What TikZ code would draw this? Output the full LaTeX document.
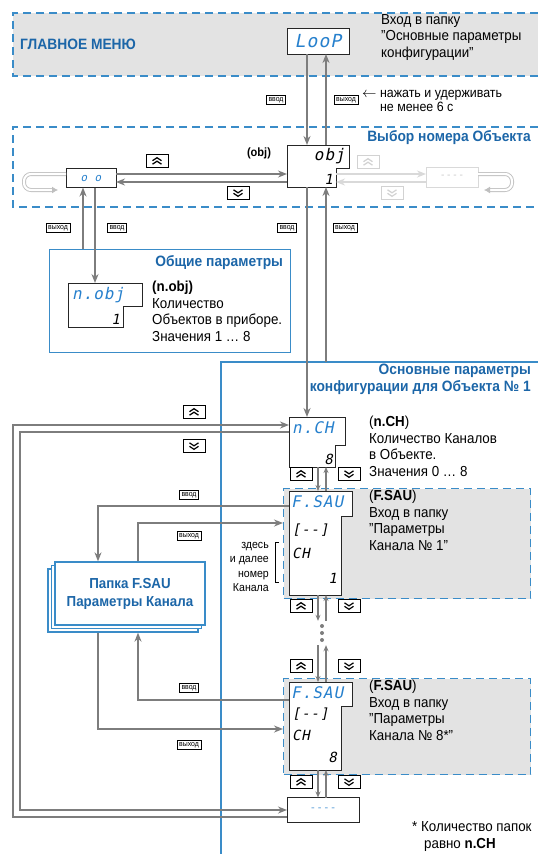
\documentclass[tikz,border=0pt]{standalone}
\usepackage{fontspec}
\setmainfont{Liberation Sans}[FakeStretch=0.92]
\newfontfamily\segfont{DejaVu Sans Mono}[FakeSlant=0.2, LetterSpace=6]
\usetikzlibrary{arrows.meta,shadows}

\definecolor{titleblue}{RGB}{28,102,168}
\definecolor{lineblue}{RGB}{58,140,200}
\definecolor{segblue}{RGB}{38,128,205}
\definecolor{arrgray}{RGB}{125,125,125}
\definecolor{bandgray}{RGB}{227,227,227}

% рамка индикатора с вырезом внизу справа
\newcommand\dispframe[3]{%
  \draw[disp] (#1.north west) -- (#1.north east) -- ([yshift=#3]#1.south east)
    -- ([xshift=-#2,yshift=#3]#1.south east) -- ([xshift=-#2]#1.south east)
    -- (#1.south west) -- cycle;}

\tikzset{
  txt/.style={align=left, inner sep=0pt, font=\fontsize{14.5}{16.5}\selectfont},
  smalltxt/.style={align=right, inner sep=0pt, font=\fontsize{11.5}{14.5}\selectfont},
  title/.style={align=right, inner sep=0pt, font=\fontsize{15}{17}\selectfont\bfseries, text=titleblue},
  band/.style={draw=lineblue, line width=1.3pt, dash pattern=on 8pt off 5pt},
  bandbox/.style={band, fill=bandgray, inner sep=0pt},
  panel/.style={draw=lineblue, line width=1.2pt},
  dispbox/.style={inner sep=0pt, outer sep=0pt},
  disp/.style={draw=black!85, line width=1pt, fill=white},
  seg/.style={inner sep=0pt, text=segblue, font=\segfont\fontsize{16}{16}\selectfont},
  segrow/.style={seg, text=black, font=\segfont\fontsize{14}{14}\selectfont},
  conn/.style={draw=arrgray, line width=2.6pt, -{Stealth[length=9pt,width=7pt]}},
  thinconn/.style={draw=arrgray, line width=1.5pt, -{Stealth[length=6pt,width=5pt]}},
  fadeconn/.style={conn, draw=gray!30},
  hollow/.style={draw=gray!50, line width=0.9pt, double=white, double distance=2.2pt},
  tag/.style={draw, line width=0.7pt, inner xsep=2.2pt, inner ysep=2pt, font=\fontsize{7.5}{7.5}\selectfont},
  key/.style={draw, line width=0.9pt, minimum width=22pt, minimum height=13pt, inner sep=0pt},
  chev/.style={line width=1.2pt, black},
  keyup/.style={key, path picture={
    \draw[chev] ([shift={(-4.5pt,-3.2pt)}]path picture bounding box.center) -- ++(4.5pt,3pt) -- ++(4.5pt,-3pt)
                ([shift={(-4.5pt,0.3pt)}]path picture bounding box.center) -- ++(4.5pt,3pt) -- ++(4.5pt,-3pt);}},
  keydn/.style={key, path picture={
    \draw[chev] ([shift={(-4.5pt,3.2pt)}]path picture bounding box.center) -- ++(4.5pt,-3pt) -- ++(4.5pt,3pt)
                ([shift={(-4.5pt,-0.3pt)}]path picture bounding box.center) -- ++(4.5pt,-3pt) -- ++(4.5pt,3pt);}},
  fadekey/.style={draw=gray!35, chev/.style={line width=1.2pt, gray!35}},
  folder/.style={draw=lineblue, line width=1.3pt, fill=white, minimum width=150pt, minimum height=63pt,
    double copy shadow={shadow xshift=-3.5pt, shadow yshift=-3.5pt},
    align=center, text=titleblue, font=\fontsize{14.5}{18}\selectfont\bfseries}
}

\begin{document}
\begin{tikzpicture}[x=1pt, y=-1pt]
  \useasboundingbox (0,0) rectangle (538,854);

  % главное меню
  \fill[bandgray] (13,13) rectangle (538,76);
  \draw[band] (538,13) -- (13,13) -- (13,76) -- (538,76);
  \node[title, anchor=west] (mainmenu) at (20,44) {ГЛАВНОЕ МЕНЮ};
  \node[dispbox, minimum width=62, minimum height=26] (loop) at (318,41) {};
  \draw[disp] (loop.north west) rectangle (loop.south east);
  \node[seg, font=\segfont\fontsize{18}{18}\selectfont] (looptext) at (loop) {LooP};
  \node[txt, anchor=north west] (looptxt) at (381,14) {Вход в папку\\"Основные параметры\\конфигурации"};

  % выбор номера объекта
  \draw[band] (538,127) -- (13,127) -- (13,207) -- (538,207);
  \node[title, anchor=north east] (objtitle) at (531,130) {Выбор номера Объекта};
  \node[dispbox, minimum width=62, minimum height=42] (obj) at (318,166) {};
  \dispframe{obj}{13pt}{19pt}
  \node[seg, text=black, anchor=north east] (objtext) at ([shift={(-4pt,-3pt)}]obj.north east) {obj};
  \node[segrow, anchor=south east] (objval) at ([shift={(-16pt,2pt)}]obj.south east) {1};
  \node[txt, font=\fontsize{12}{14}\selectfont\bfseries] (objname) at (259,153) {(obj)};

  \node[dispbox, minimum width=50, minimum height=19] (first) at (91,178) {};
  \draw[disp] (first.north west) rectangle (first.south east);
  \node[seg, font=\segfont\fontsize{11}{11}\selectfont] (firsttext) at (first) {o o};
  \node[dispbox, minimum width=52, minimum height=20] (last) at (452,177) {};
  \draw[draw=gray!30, line width=1pt] (last.north west) rectangle (last.south east);
  \node[text=gray!40, font=\fontsize{11}{11}\selectfont] (lasttext) at (last) {- - - -};

  \coordinate (fwd) at (0,174);
  \coordinate (bwd) at (0,182);
  \coordinate (objnotch) at (336,0);
  \draw[conn] (first.east |- fwd) -- (obj.west |- fwd);
  \draw[conn] (obj.west |- bwd) -- (first.east |- bwd);
  \draw[fadeconn] (objnotch |- fwd) -- (last.west |- fwd);
  \draw[fadeconn] (last.west |- bwd) -- (objnotch |- bwd);
  \node[keyup] (kup1) at (157,161) {};
  \node[keydn] (kdn1) at (238,193) {};
  \node[keyup, fadekey] (kup2) at (368,162) {};
  \node[keydn, fadekey] (kdn2) at (392,193) {};
  \draw[hollow, rounded corners=7pt, -{Latex[length=6pt,width=7pt]}] (first.west |- fwd) -- (24,174) -- (24,190) -- (58,190);
  \draw[hollow, rounded corners=7pt, -{Latex[length=6pt,width=7pt]}] (last.east |- fwd) -- (512,174) -- (512,190) -- (484,190);

  % переходы меню <-> объект
  \coordinate (enter) at (307,0);
  \coordinate (leave) at (326,0);
  \draw[conn] (loop.south -| enter) -- (obj.north -| enter);
  \draw[conn] (obj.north -| leave) -- (loop.south -| leave);
  \node[tag] (tag1) at (276,100) {ввод};
  \node[tag] (tag2) at (346,100) {выход};
  \node[txt, anchor=west, font=\fontsize{13.5}{14.5}\selectfont] (hold) at (362,101) {$\leftarrow$\ нажать и удерживать\\\phantom{$\leftarrow$\ }не менее 6 с};

  % общие параметры
  \node[panel, minimum width=241, minimum height=103, anchor=north west] (gen) at (49,249) {};
  \node[title, anchor=north east] (gentitle) at ([shift={(-8pt,-6pt)}]gen.north east) {Общие параметры};
  \node[dispbox, minimum width=74, minimum height=44] (nobj) at (105,305) {};
  \dispframe{nobj}{19pt}{21pt}
  \node[seg, anchor=north west] (nobjtext) at ([shift={(4pt,-4pt)}]nobj.north west) {n.obj};
  \node[segrow, anchor=south east] (nobjval) at ([shift={(-22pt,2pt)}]nobj.south east) {1};
  \node[txt, anchor=north west] (nobjdesc) at (152,281) {\textbf{(n.obj)}\\Количество\\Объектов в приборе.\\Значения 1 … 8};

  \coordinate (fenter) at (95,0);
  \coordinate (fleave) at (83,0);
  \draw[conn] (first.south -| fenter) -- (nobj.north -| fenter);
  \draw[conn] (gen.north -| fleave) -- (first.south -| fleave);
  \node[tag] (tag3) at (58,228) {выход};
  \node[tag] (tag4) at (117,228) {ввод};

  % основные параметры объекта
  \coordinate (maintop) at (221,362);
  \draw[panel] (538,362) -- (maintop) -- (221,854);
  \node[title, anchor=north east] (maintitle) at (531,364) {Основные параметры\\конфигурации для Объекта № 1};
  \node[tag] (tag5) at (287,228) {ввод};
  \node[tag] (tag6) at (345,228) {выход};

  \node[dispbox, minimum width=56, minimum height=50] (nch) at (317,442) {};
  \draw[conn] (obj.south -| enter) -- (nch.north -| enter);
  \draw[conn] (maintop -| leave) -- (obj.south -| leave);
  \dispframe{nch}{10pt}{22pt}
  \node[seg, anchor=north west] (nchtext) at ([shift={(3pt,-4pt)}]nch.north west) {n.CH};
  \node[segrow, anchor=south east] (nchval) at ([shift={(-12pt,2pt)}]nch.south east) {8};
  \node[txt, anchor=north west] (nchdesc) at (369,416) {(\textbf{n.CH})\\Количество Каналов\\в Объекте.\\Значения 0 … 8};

  % папки каналов
  \node[bandbox, minimum width=247, minimum height=110, anchor=north west] (band1) at (283,488) {};
  \node[dispbox, minimum width=63, minimum height=104] (fs1) at (320.5,543) {};
  \dispframe{fs1}{11pt}{79pt}
  \node[seg, anchor=north west] (fs1a) at ([shift={(2pt,-4pt)}]fs1.north west) {F.SAU};
  \node[segrow, anchor=west] (fs1b) at (292,530) {[-{}-]};
  \node[segrow, anchor=west] (fs1c) at (292,553) {CH};
  \node[segrow, anchor=east] (fs1d) at (337,578) {1};
  \node[txt, anchor=north west] (fs1desc) at (369,490) {(\textbf{F.SAU})\\Вход в папку\\"Параметры\\Канала № 1"};
  \node[smalltxt, anchor=east] (here) at (269,567) {здесь\\и далее\\номер\\Канала};
  \draw[line width=0.5pt] (279,542) -- (275,542) -- (275,582) -- (279,582);

  \node[minimum height=24, inner sep=0pt] (dots) at (322,633) {};
  \foreach \d in {-7,0,7} \fill[arrgray] ([yshift=\d pt]dots.center) circle (2pt);

  \node[bandbox, minimum width=247, minimum height=96, anchor=north west] (band8) at (283,678) {};
  \node[dispbox, minimum width=63, minimum height=88] (fs8) at (320.5,726) {};
  \dispframe{fs8}{11pt}{64pt}
  \node[seg, anchor=north west] (fs8a) at ([shift={(2pt,-4pt)}]fs8.north west) {F.SAU};
  \node[segrow, anchor=west] (fs8b) at (292,714) {[-{}-]};
  \node[segrow, anchor=west] (fs8c) at (292,735) {CH};
  \node[segrow, anchor=east] (fs8d) at (337,757) {8};
  \node[txt, anchor=north west] (fs8desc) at (369,680) {(\textbf{F.SAU})\\Вход в папку\\"Параметры\\Канала № 8*"};

  \node[dispbox, minimum width=72, minimum height=25] (lastch) at (323,810) {};
  \draw[disp] (lastch.north west) rectangle (lastch.south east);
  \node[text=segblue!70, font=\fontsize{12}{12}\selectfont] (lastchtext) at (lastch) {- - - -};

  % переходы по списку каналов
  \coordinate (dn) at (318,0);
  \coordinate (up) at (326,0);
  \draw[thinconn] (nch.south -| dn) -- (fs1.north -| dn);
  \draw[thinconn] (fs1.north -| up) -- (nch.south -| up);
  \draw[thinconn] (fs1.south -| dn) -- (dots.north -| dn);
  \draw[thinconn] (dots.north -| up) -- (fs1.south -| up);
  \draw[thinconn] (dots.south -| dn) -- (fs8.north -| dn);
  \draw[thinconn] (fs8.north -| up) -- (dots.south -| up);
  \draw[thinconn] (fs8.south -| dn) -- (lastch.north -| dn);
  \draw[thinconn] (lastch.north -| up) -- (fs8.south -| up);
  \node[keyup] (kup3) at (301,474) {};
  \node[keydn] (kdn3) at (349,474) {};
  \node[keyup] (kup4) at (301,606) {};
  \node[keydn] (kdn4) at (349,606) {};
  \node[keyup] (kup5) at (301,666) {};
  \node[keydn] (kdn5) at (349,666) {};
  \node[keyup] (kup6) at (301,782) {};
  \node[keydn] (kdn6) at (349,782) {};

  % папка параметров канала
  \node[folder] (folder) at (130,593.5) {Папка F.SAU\\Параметры Канала};
  \coordinate (foldbase) at ([yshift=-7pt]folder.south);
  \coordinate (fold1) at (98,0);
  \coordinate (fold2) at (138,0);
  \coordinate (f1out) at (0,506);
  \coordinate (f1in) at (0,523);
  \coordinate (f8out) at (0,700);
  \coordinate (f8in) at (0,729);
  \draw[conn] (fs1.west |- f1out) -| (folder.north -| fold1);
  \draw[conn] (folder.north -| fold2) |- (band1.west |- f1in);
  \draw[conn] (fs8.west |- f8out) -| (foldbase -| fold2);
  \draw[conn] (foldbase -| fold1) |- (band8.west |- f8in);
  \node[tag] (tag7) at (189,495) {ввод};
  \node[tag] (tag8) at (189,536) {выход};
  \node[tag] (tag9) at (189,688) {ввод};
  \node[tag] (tag10) at (189,745) {выход};

  % кольцо по каналам
  \coordinate (outer) at (13,0);
  \coordinate (inner) at (20,0);
  \coordinate (uptop) at (0,425);
  \coordinate (dntop) at (0,432);
  \coordinate (upbot) at (0,817);
  \coordinate (dnbot) at (0,810);
  \draw[conn] (lastch.west |- upbot) -- (outer |- upbot) -- (outer |- uptop) -- (nch.west |- uptop);
  \draw[conn] (nch.west |- dntop) -- (inner |- dntop) -- (inner |- dnbot) -- (lastch.west |- dnbot);
  \node[keyup] (kup7) at (194,412) {};
  \node[keydn] (kdn7) at (194,446) {};

  \node[txt, anchor=north west] (note) at (412,821) {* Количество папок};
  \node[txt, anchor=north west] (note2) at (424,838) {равно \textbf{n.CH}};
\end{tikzpicture}
\end{document}
